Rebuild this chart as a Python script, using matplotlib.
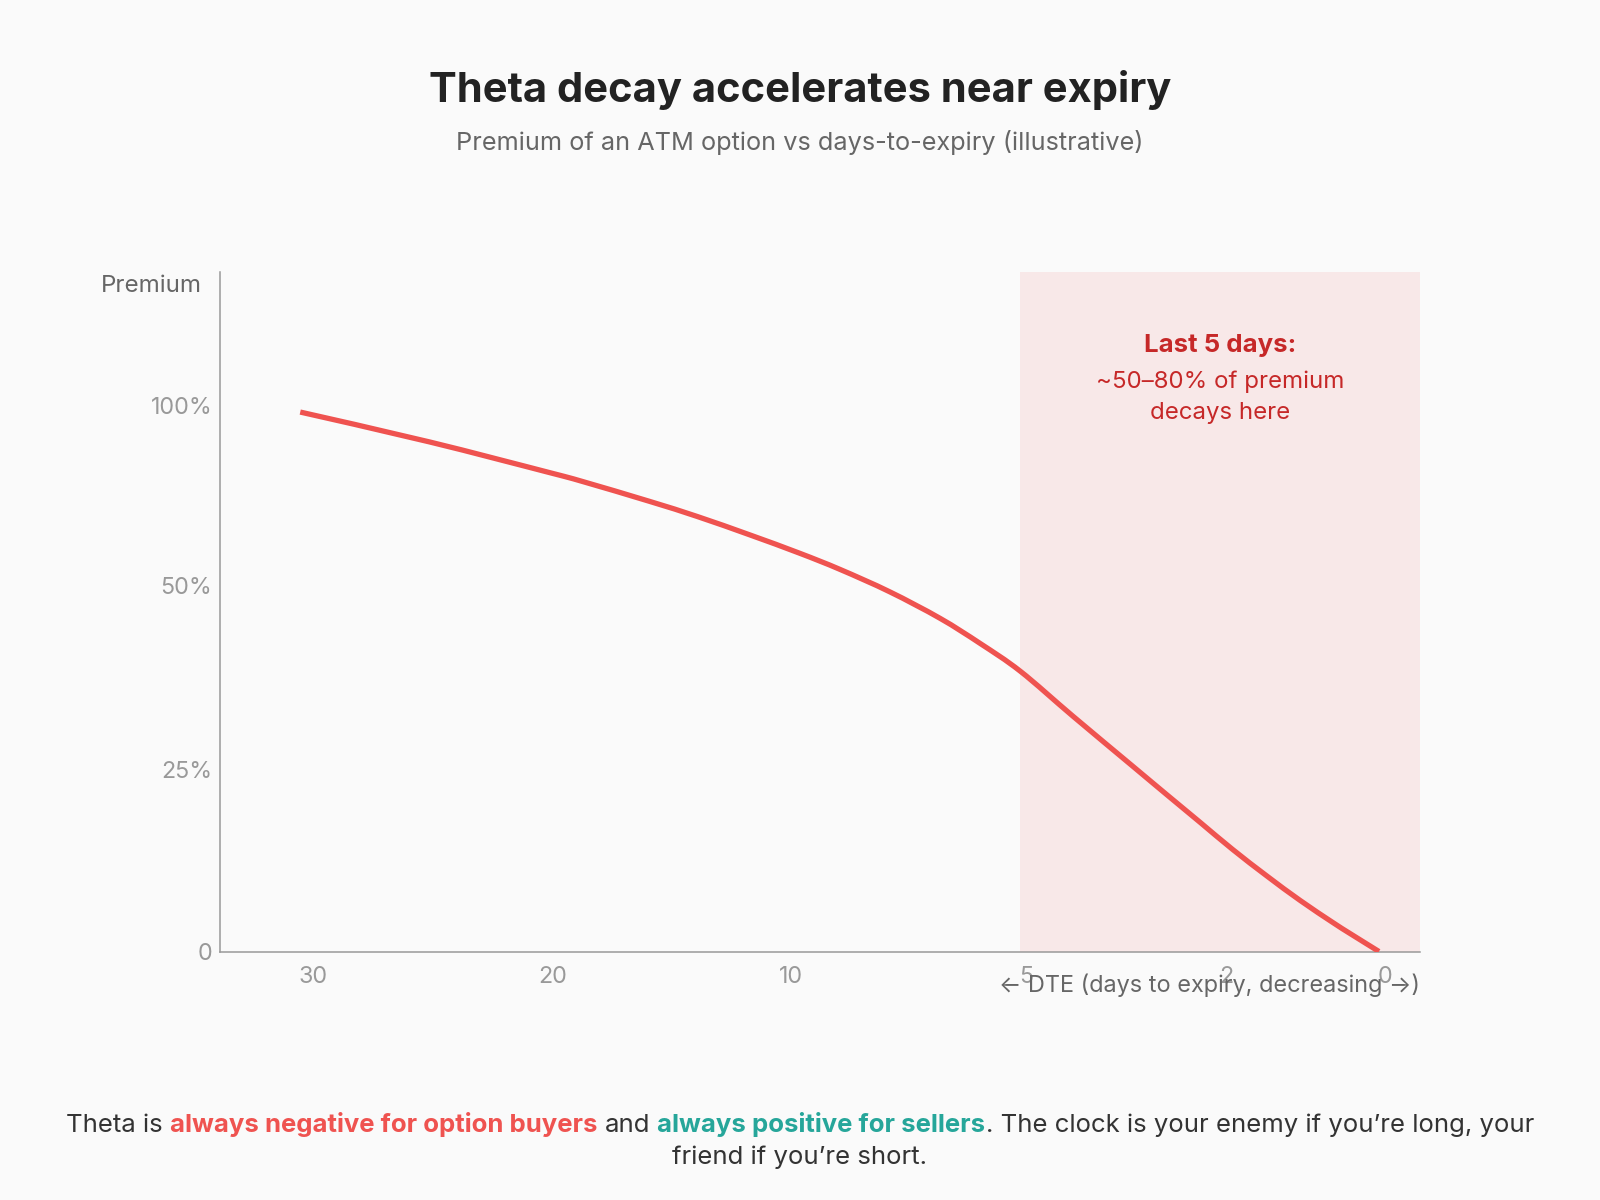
import numpy as np
import matplotlib
matplotlib.use("Agg")
import matplotlib.pyplot as plt
from matplotlib import transforms as mtransforms
from matplotlib.path import Path
from matplotlib.patches import PathPatch

# ---------------- data ----------------
dte = [30.3, 24.9, 19.9, 18.5, 15.7, 13.7, 11.5, 9.7, 8.84, 7.78, 6.71, 5.86, 5.0,
       4.21, 3.31, 2.80, 2.30, 1.84, 1.41, 0.99, 0.58, 0.36, 0.0]
premium_pct = [98.3, 90.0, 81.5, 79.0, 73.5, 69.3, 64.2, 59.1, 54.6, 49.2, 45.6, 42.2, 38.4,
               32.3, 25.5, 21.6, 17.8, 14.05, 10.4, 7.02, 3.99, 2.45, 0.0]
x_ticks = [30, 20, 10, 5, 2, 0]
x_tick_labels = ["30", "20", "10", "5", "2", "0"]
y_ticks = [0, 25, 50, 100]
y_tick_labels = ["0", "25%", "50%", "100%"]
zone_start_dte = 5

# ---------------- scale construction (illustrative, non-linear axes) ----------------
x_scale_vals = [-1, 0, 2, 5, 10, 20, 30, 40]
x_scale_pos = [-79.5, 0, 159, 358.5, 593.5, 832, 1071.5, 1311]
y_scale_vals = [-10, 0, 25, 50, 100, 200]
y_scale_pos = [-72.6, 0, 181.5, 365.5, 545.5, 905.5]


def xf(v):
    return np.interp(v, x_scale_vals, x_scale_pos)


def xi(p):
    return np.interp(p, x_scale_pos, x_scale_vals)


def yf(v):
    return np.interp(v, y_scale_vals, y_scale_pos)


def yi(p):
    return np.interp(p, y_scale_pos, y_scale_vals)


FONT = ["Inter", "DejaVu Sans"]
plt.rcParams["font.family"] = FONT

RED = "#ef5350"
DARK_RED = "#c62828"
TEAL = "#26a69a"
BG = "#fafafa"

fig = plt.figure(figsize=(16, 12), dpi=100, facecolor=BG)
ax = fig.add_axes([220 / 1600, 1 - 951.5 / 1200, 1200 / 1600, 679.5 / 1200])
ax.set_facecolor(BG)

ax.set_xscale("function", functions=(xf, xi))
ax.set_yscale("function", functions=(yf, yi))
x_left, x_right = 33.65, -0.516
ax.set_xlim(x_left, x_right)
ax.set_ylim(0, 137.2)
ax.set_autoscale_on(False)

# danger zone
ax.axvspan(zone_start_dte, x_right, color=RED, alpha=0.1, lw=0, zorder=1)

# smooth curve through the read points (Catmull-Rom -> cubic Bezier in the axes' scaled space)
pts = ax.transScale.transform(np.column_stack([dte, premium_pct]))
n = len(pts)
verts = [pts[0]]
codes = [Path.MOVETO]
for i in range(n - 1):
    p0 = pts[i - 1] if i > 0 else pts[i]
    p1 = pts[i]
    p2 = pts[i + 1]
    p3 = pts[i + 2] if i + 2 < n else pts[i + 1]
    c1 = p1 + (p2 - p0) / 6.0
    c2 = p2 - (p3 - p1) / 6.0
    verts += [c1, c2, p2]
    codes += [Path.CURVE4] * 3
curve = PathPatch(Path(np.array(verts), codes), fill=False, edgecolor=RED, lw=3.8,
                  capstyle="butt", joinstyle="round", zorder=3,
                  transform=ax.transLimits + ax.transAxes)
ax.add_patch(curve)

# axes styling
for s in ["top", "right"]:
    ax.spines[s].set_visible(False)
for s in ["left", "bottom"]:
    ax.spines[s].set_color("#999999")
    ax.spines[s].set_linewidth(1.1)

ax.set_xticks(x_ticks, x_tick_labels)
ax.set_yticks(y_ticks, y_tick_labels)
ax.minorticks_off()
ax.tick_params(axis="x", length=0, pad=10.5, labelsize=16.8, labelcolor="#999999")
ax.tick_params(axis="y", length=0, pad=5.5, labelsize=16.8, labelcolor="#999999")

offset = mtransforms.ScaledTranslation(6 / 100, 0, fig.dpi_scale_trans)
for lab in ax.get_xticklabels():
    lab.set_transform(lab.get_transform() + offset)

# axis titles
ax.text(-0.015, 0.9701, "Premium", transform=ax.transAxes, ha="right",
        va="baseline", fontsize=17.4, color="#666666")
ax.text(1.0, -0.0592, "\u2190 DTE (days to expiry, decreasing \u2192)",
        transform=ax.transAxes, ha="right", va="baseline", fontsize=16.9,
        color="#666666", family=FONT)

# annotation in the zone
ax.text(0.8335, 0.8818, "Last 5 days:", transform=ax.transAxes, ha="center",
        va="baseline", fontsize=18.6, fontweight="bold", color=DARK_RED)
ax.text(0.8335, 0.8288, "~50\u201380% of premium", transform=ax.transAxes,
        ha="center", va="baseline", fontsize=17.3, color=DARK_RED)
ax.text(0.8335, 0.7832, "decays here", transform=ax.transAxes, ha="center",
        va="baseline", fontsize=17.3, color=DARK_RED)

# title / subtitle
fig.text(0.5, 1 - 101.7 / 1200, "Theta decay accelerates near expiry",
         ha="center", va="baseline", fontsize=30, fontweight="bold", color="#222222")
fig.text(0.5, 1 - 150 / 1200, "Premium of an ATM option vs days-to-expiry (illustrative)",
         ha="center", va="baseline", fontsize=18.2, color="#666666")

# footer with mixed styling
FOOT_SIZE = 18.5
parts = [
    ("Theta is", "#333333", "normal", True),
    ("always negative for option buyers", RED, "bold", True),
    ("and", "#333333", "normal", True),
    ("always positive for sellers", TEAL, "bold", False),
    (". The clock is your enemy if you\u2019re long, your", "#333333", "normal", False),
]
renderer = fig.canvas.get_renderer()


def text_width(s, weight):
    t = fig.text(0, 0, s, fontsize=FOOT_SIZE, fontweight=weight)
    w = t.get_window_extent(renderer).width
    t.remove()
    return w


space_w = text_width("a a", "normal") - text_width("aa", "normal")
widths = [text_width(p[0], p[2]) for p in parts]
total = sum(widths) + space_w * sum(1 for p in parts if p[3])
x0 = 800 - total / 2
y1 = 1 - 1131.7 / 1200
for (s, c, w, sp), wd in zip(parts, widths):
    fig.text(x0 / 1600, y1, s, fontsize=FOOT_SIZE, fontweight=w, color=c,
             ha="left", va="baseline")
    x0 += wd + (space_w if sp else 0)
fig.text(0.5, 1 - 1164 / 1200, "friend if you\u2019re short.", fontsize=FOOT_SIZE,
         color="#333333", ha="center", va="baseline")

fig.savefig("out.png", dpi=100, facecolor=BG)
